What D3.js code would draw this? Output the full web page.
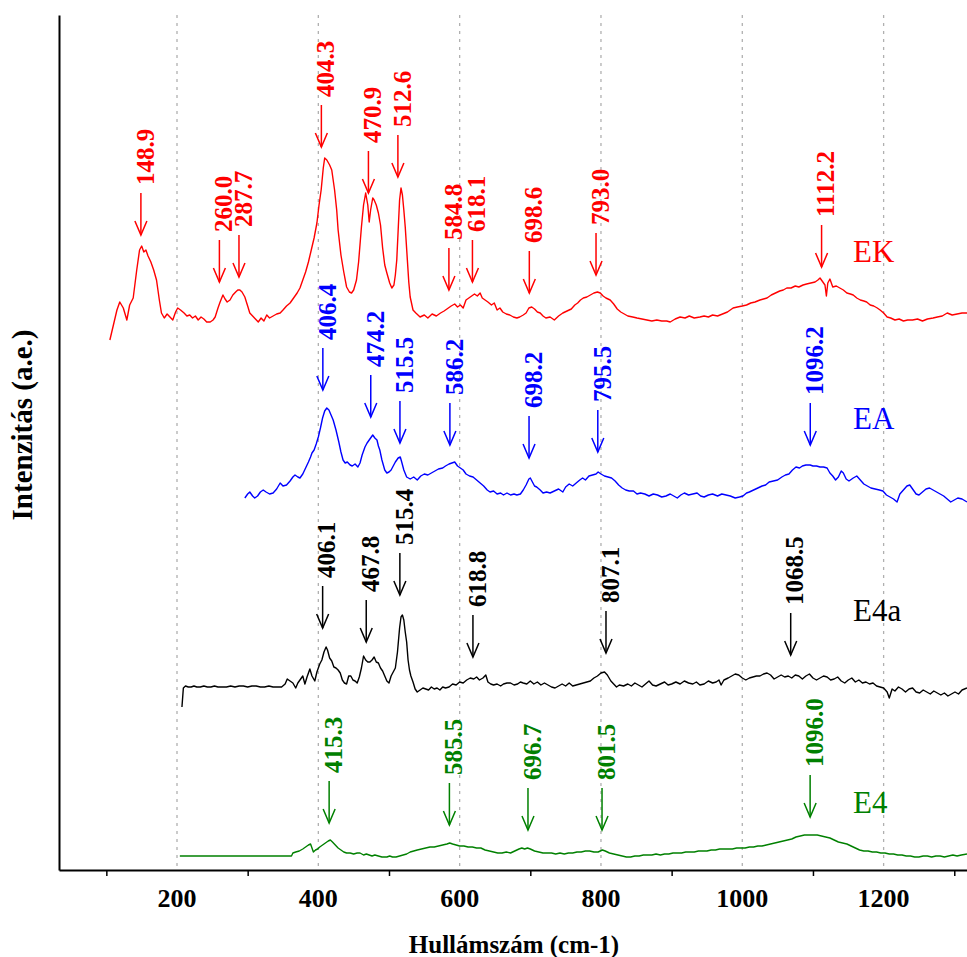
<!DOCTYPE html>
<html><head><meta charset="utf-8">
<script src="https://cdn.jsdelivr.net/npm/d3@7"></script>
<style>body{margin:0;background:#fff;} svg{display:block}</style>
</head><body><svg id="c" width="967" height="957"></svg>
<script>
// ---------------- DATA ----------------
const seriesNames = ["EK", "EA", "E4a", "E4"];
const seriesColors = ["#ff0000", "#0000ff", "#000000", "#008000"];
const seriesOffsets = [550, 370, 180, 10];   // vertical stacking offsets (a.u.)

const ekSpectrum = [[105,-20],[110,-5],[115,10],[119,18],[124,12],[129,0],[133,15],[138,22],[143,50],[147,70],[150,74],[153,68],[156,70],[159,64],[163,58],[167,50],[171,40],[175,20],[178,7],[182,2],[186,6],[190,3],[194,0],[198,8],[201,12],[205,10],[210,7],[214,4],[218,5],[222,2],[226,4],[230,0],[234,3],[238,1],[242,-2],[247,-2],[251,0],[254,3],[258,12],[261,18],[265,25],[268,21],[271,18],[275,20],[279,25],[283,28],[286,30],[289,30],[292,28],[296,23],[300,14],[303,7],[307,4],[311,1],[315,-2],[319,2],[323,-1],[327,5],[331,2],[336,4],[341,6],[346,7],[350,10],[355,14],[360,17],[365,22],[370,27],[374,32],[378,40],[382,48],[386,58],[390,70],[394,82],[398,97],[401,115],[404,130],[407,152],[409,162],[412,160],[416,155],[419,150],[423,130],[426,110],[428,90],[432,65],[436,48],[440,33],[444,28],[447,27],[450,30],[454,40],[457,58],[461,93],[464,115],[467,127],[470,115],[472,98],[474,110],[477,122],[479,120],[482,115],[485,107],[488,95],[491,72],[494,55],[497,47],[501,37],[504,32],[507,35],[509,45],[511,60],[513,90],[515,120],[517,132],[519,125],[521,110],[523,93],[526,60],[528,38],[530,23],[534,10],[538,7],[544,3],[550,5],[555,2],[561,6],[567,4],[573,7],[578,9],[584,12],[588,14],[593,16],[597,13],[601,15],[605,12],[609,20],[613,22],[617,24],[621,26],[625,24],[629,27],[632,22],[636,20],[640,18],[645,15],[649,17],[653,10],[657,12],[661,8],[666,6],[671,5],[676,3],[681,2],[685,3],[690,5],[694,7],[698,12],[702,13],[706,11],[710,8],[714,7],[718,4],[722,2],[728,3],[734,0],[740,4],[746,7],[752,9],[758,11],[763,15],[767,17],[771,20],[775,22],[780,23],[785,25],[790,27],[795,28],[799,27],[803,24],[807,22],[813,20],[818,16],[823,11],[828,8],[833,6],[838,4],[845,3],[851,2],[858,1],[865,0],[872,-1],[879,0],[886,-1],[893,-1],[898,-2],[905,1],[912,3],[919,2],[925,4],[932,2],[940,3],[946,4],[952,3],[958,5],[965,4],[972,6],[979,8],[987,12],[993,13],[1000,14],[1006,15],[1012,17],[1018,18],[1025,20],[1030,21],[1035,22],[1041,25],[1047,27],[1053,29],[1058,30],[1063,32],[1069,32],[1075,34],[1080,33],[1086,35],[1091,36],[1097,37],[1103,38],[1107,40],[1110,42],[1113,39],[1117,35],[1119,24],[1121,37],[1124,41],[1128,33],[1133,34],[1138,32],[1143,30],[1148,27],[1153,26],[1157,25],[1162,22],[1167,20],[1172,19],[1176,18],[1181,15],[1186,14],[1191,12],[1195,10],[1200,7],[1205,3],[1210,2],[1216,0],[1222,1],[1228,-1],[1234,0],[1241,0],[1248,1],[1255,-1],[1262,1],[1270,2],[1276,3],[1283,4],[1290,7],[1297,5],[1304,6],[1311,7],[1318,7]];

const eaSpectrum = [[296,2],[300,6],[303,8],[307,4],[310,2],[314,4],[318,8],[322,10],[326,8],[331,6],[336,7],[341,11],[346,17],[350,14],[355,15],[360,19],[364,23],[367,25],[371,23],[374,22],[378,26],[382,32],[386,38],[389,43],[391,47],[394,50],[397,56],[400,63],[403,72],[406,82],[409,89],[412,92],[415,90],[418,85],[421,80],[425,70],[429,58],[432,48],[435,40],[438,37],[441,38],[445,35],[448,34],[452,36],[456,33],[459,37],[462,45],[466,53],[469,57],[472,60],[475,63],[477,65],[480,62],[483,60],[485,54],[487,50],[490,40],[494,30],[497,27],[500,28],[503,30],[506,34],[509,38],[513,42],[516,43],[518,38],[521,30],[525,23],[530,21],[535,23],[540,20],[545,24],[550,26],[555,25],[560,27],[565,29],[570,31],[576,32],[580,34],[585,36],[589,37],[593,38],[597,34],[601,32],[605,30],[609,26],[614,24],[619,23],[624,20],[629,17],[634,14],[639,10],[643,8],[648,9],[653,6],[658,7],[662,5],[667,7],[672,5],[677,6],[681,5],[686,6],[690,10],[694,15],[698,21],[700,22],[703,18],[706,14],[709,13],[714,10],[718,7],[723,8],[728,7],[734,9],[740,11],[746,8],[750,13],[755,16],[760,14],[765,17],[770,20],[774,22],[778,20],[783,24],[788,25],[793,26],[796,28],[800,26],[805,24],[810,23],[815,22],[820,19],[825,15],[830,12],[835,10],[840,9],[846,9],[851,6],[856,7],[862,6],[868,4],[874,6],[880,5],[886,3],[892,4],[898,6],[903,4],[908,2],[913,5],[918,7],[924,5],[930,6],[936,7],[941,4],[946,3],[952,5],[958,6],[965,4],[971,6],[977,5],[983,4],[990,2],[996,3],[1001,4],[1006,7],[1010,8],[1016,10],[1022,12],[1028,14],[1033,15],[1038,18],[1044,19],[1050,20],[1056,23],[1061,25],[1066,26],[1071,30],[1076,33],[1081,32],[1085,34],[1090,35],[1096,35],[1100,34],[1105,34],[1110,33],[1115,33],[1120,32],[1124,27],[1128,24],[1132,20],[1136,23],[1140,29],[1143,27],[1147,21],[1151,19],[1157,22],[1162,24],[1167,20],[1172,16],[1177,14],[1182,12],[1188,11],[1194,10],[1199,9],[1204,5],[1209,3],[1214,1],[1219,-2],[1223,6],[1228,10],[1233,14],[1237,15],[1242,10],[1246,6],[1250,5],[1255,8],[1260,11],[1265,12],[1270,10],[1275,8],[1280,6],[1285,4],[1290,1],[1295,-2],[1300,0],[1305,2],[1311,1],[1318,-2]];

const e4aSpectrum = [[207,-17],[209,2],[212,4],[216,3],[220,3],[224,4],[228,3],[233,3],[238,4],[243,3],[248,3],[253,4],[258,3],[264,3],[270,3],[276,4],[282,3],[288,4],[294,4],[300,3],[306,4],[312,4],[318,3],[324,3],[330,4],[336,3],[342,3],[348,3],[353,6],[356,11],[360,9],[364,7],[368,2],[371,7],[374,10],[378,14],[381,6],[384,13],[388,21],[391,14],[395,9],[398,18],[402,26],[405,30],[408,38],[411,43],[413,40],[416,32],[419,29],[422,23],[425,22],[428,20],[431,17],[434,10],[437,7],[440,6],[443,14],[446,14],[449,10],[452,9],[455,7],[458,13],[461,22],[464,34],[467,30],[470,28],[473,28],[476,30],[479,33],[482,28],[485,27],[488,22],[491,19],[494,14],[497,9],[500,7],[503,14],[506,18],[509,22],[512,38],[515,62],[517,73],[519,75],[521,70],[523,58],[525,48],[527,30],[529,20],[531,14],[534,8],[537,1],[540,-2],[544,0],[548,2],[552,1],[556,0],[560,3],[564,1],[568,2],[572,0],[576,3],[580,2],[585,3],[590,6],[595,5],[600,8],[605,7],[610,10],[615,12],[620,11],[624,13],[628,10],[633,12],[637,15],[640,8],[644,6],[648,5],[653,6],[658,4],[662,6],[667,7],[672,7],[677,5],[682,6],[686,8],[690,7],[695,6],[700,9],[705,6],[710,8],[715,5],[720,7],[725,5],[730,3],[735,2],[740,4],[745,6],[750,4],[755,7],[760,4],[765,5],[770,6],[775,7],[780,8],[785,9],[790,12],[795,14],[800,17],[805,18],[809,15],[814,9],[818,6],[822,3],[826,5],[832,4],[838,6],[843,4],[848,7],[853,5],[858,3],[863,6],[868,9],[873,5],[878,4],[884,6],[890,8],[895,5],[900,6],[906,8],[912,6],[918,9],[924,7],[930,6],[935,8],[940,5],[946,6],[952,9],[958,7],[963,8],[967,10],[970,5],[974,10],[980,12],[985,14],[990,16],[995,15],[1000,12],[1005,10],[1010,12],[1015,13],[1020,14],[1025,14],[1030,16],[1035,17],[1040,15],[1045,11],[1050,13],[1055,15],[1060,13],[1065,14],[1070,12],[1075,15],[1080,14],[1085,11],[1090,14],[1095,16],[1100,12],[1105,10],[1110,12],[1115,14],[1120,13],[1125,10],[1130,11],[1135,13],[1140,9],[1145,7],[1150,10],[1155,12],[1160,8],[1165,10],[1170,7],[1175,8],[1180,6],[1185,7],[1190,4],[1195,3],[1200,2],[1205,-2],[1208,-8],[1212,1],[1216,-1],[1221,3],[1226,1],[1231,-2],[1236,1],[1241,2],[1246,-2],[1251,-3],[1256,0],[1261,-2],[1266,-4],[1271,-1],[1276,-3],[1281,-5],[1286,-3],[1291,-6],[1296,-4],[1301,-2],[1306,-4],[1311,0],[1318,2]];

const e4Spectrum = [[204,4],[362,4],[364,7],[368,8],[373,9],[378,11],[382,13],[386,15],[389,16],[391,12],[393,8],[396,10],[399,11],[402,13],[406,15],[410,17],[414,19],[417,20],[420,18],[424,15],[428,12],[432,10],[436,8],[440,7],[445,7],[450,6],[455,7],[459,7],[464,5],[468,6],[472,5],[476,4],[480,5],[485,4],[490,3],[494,3],[497,3],[501,4],[505,3],[510,3],[515,4],[520,5],[525,6],[530,8],[535,9],[540,10],[546,11],[552,12],[558,13],[564,13],[570,14],[576,15],[582,16],[586,17],[590,16],[595,15],[600,14],[606,14],[612,13],[618,13],[624,12],[630,12],[636,10],[642,9],[648,8],[654,7],[660,7],[666,8],[672,7],[678,9],[684,11],[688,12],[692,11],[696,12],[700,11],[706,9],[712,8],[718,7],[724,7],[730,7],[736,6],[742,7],[748,6],[754,7],[760,7],[766,8],[772,8],[778,9],[784,9],[790,8],[796,8],[802,10],[806,9],[812,7],[818,6],[824,5],[830,4],[836,3],[842,3],[848,4],[854,4],[860,5],[866,5],[872,5],[878,6],[884,5],[890,6],[896,6],[902,7],[908,7],[914,7],[920,8],[926,8],[932,8],[938,9],[944,9],[950,9],[956,10],[962,10],[968,11],[974,11],[980,11],[986,11],[992,12],[998,12],[1004,12],[1010,13],[1016,13],[1022,14],[1028,14],[1034,15],[1040,16],[1046,17],[1052,18],[1058,19],[1064,20],[1070,21],[1076,23],[1082,24],[1088,25],[1094,25],[1100,25],[1106,25],[1112,24],[1118,23],[1124,22],[1130,20],[1136,18],[1142,17],[1148,16],[1154,14],[1160,12],[1166,10],[1172,9],[1178,9],[1184,8],[1190,8],[1196,7],[1202,7],[1208,6],[1214,6],[1220,5],[1226,5],[1232,4],[1238,4],[1244,3],[1250,3],[1256,4],[1262,4],[1268,3],[1274,4],[1280,4],[1286,3],[1292,4],[1298,5],[1304,4],[1310,5],[1318,6]];

// peak annotations: wavenumber and intensity level (a.u., relative to series) the arrow points to
const ekPeaks = [148.9, 260.0, 287.7, 404.3, 470.9, 512.6, 584.8, 618.1, 698.6, 793.0, 1112.2];
const ekPeakLevels = [85, 38, 43, 173, 127, 143, 30, 38, 27, 45, 53];
const eaPeaks = [406.4, 474.2, 515.5, 586.2, 698.2, 795.5, 1096.2];
const eaPeakLevels = [110, 83, 57, 55, 42, 48, 55];
const e4aPeaks = [406.1, 467.8, 515.4, 618.8, 807.1, 1068.5];
const e4aPeakLevels = [62, 48, 95, 33, 37, 35];
const e4Peaks = [415.3, 585.5, 696.7, 801.5, 1096.0];
const e4PeakLevels = [37, 35, 30, 30, 43];

const gridTicks = [200, 400, 600, 800, 1000, 1200];
const minorTicks = [100, 300, 500, 700, 900, 1100, 1300];
const xTitle = "Hullámszám (cm-1)";
const yTitle = "Intenzitás (a.e.)";

// ---------------- DRAW ----------------
const spectra = [ekSpectrum, eaSpectrum, e4aSpectrum, e4Spectrum];
const peaks = [ekPeaks, eaPeaks, e4aPeaks, e4Peaks];
const peakLevels = [ekPeakLevels, eaPeakLevels, e4aPeakLevels, e4PeakLevels];
const labelLevels = [58, 71, 69, 47];

const font = '"Liberation Serif","Times New Roman",serif';
const svg = d3.select('#c');
const x = d3.scaleLinear().domain([33, 1318]).range([59, 967]);
const y = d3.scaleLinear().domain([0, 855]).range([870, 15]);

// grid
svg.append('g').selectAll('line').data(gridTicks).join('line')
  .attr('x1', d => x(d)).attr('x2', d => x(d))
  .attr('y1', y(855)).attr('y2', y(0))
  .attr('stroke', '#b0b0b0').attr('stroke-width', 1.3)
  .attr('stroke-dasharray', '3,5');

// x axis
const gx = svg.append('g').attr('transform', `translate(0,${y(0)})`)
  .call(d3.axisBottom(x).tickValues(minorTicks).tickSize(6).tickSizeOuter(0).tickFormat(''));
gx.select('.domain').attr('stroke', '#000').attr('stroke-width', 2);
gx.selectAll('.tick line').attr('stroke', '#000').attr('stroke-width', 1.5);

svg.append('g').selectAll('text').data(gridTicks).join('text')
  .attr('x', d => x(d)).attr('y', 907)
  .attr('text-anchor', 'middle')
  .attr('font-family', font).attr('font-weight', 'bold').attr('font-size', 26)
  .text(d => d);

// y axis
const gy = svg.append('g').attr('transform', `translate(${x(33)},0)`)
  .call(d3.axisLeft(y).tickValues([]).tickSizeOuter(0));
gy.select('.domain').attr('stroke', '#000').attr('stroke-width', 2);

// titles
svg.append('text').attr('x', 514).attr('y', 953).attr('text-anchor', 'middle')
  .attr('font-family', font).attr('font-weight', 'bold').attr('font-size', 25)
  .text(xTitle);
svg.append('text').attr('transform', 'translate(32,425) rotate(-90)').attr('text-anchor', 'middle')
  .attr('font-family', font).attr('font-weight', 'bold').attr('font-size', 29)
  .text(yTitle);

// spectra
spectra.forEach((data, i) => {
  const off = seriesOffsets[i];
  const line = d3.line().x(d => x(d[0])).y(d => y(d[1] + off));
  svg.append('path').datum(data)
    .attr('d', line).attr('fill', 'none')
    .attr('stroke', seriesColors[i]).attr('stroke-width', 1.4)
    .attr('stroke-linejoin', 'round');

  // series label
  svg.append('text')
    .attr('x', 853).attr('y', y(labelLevels[i] + off))
    .attr('font-family', font).attr('font-size', 31)
    .attr('fill', seriesColors[i]).text(seriesNames[i]);

  // peak arrows
  const g = svg.append('g');
  peaks[i].forEach((p, k) => {
    const ax = x(p);
    const tip = y(peakLevels[i][k] + off);
    const top = tip - 42;
    g.append('line').attr('x1', ax).attr('x2', ax).attr('y1', top).attr('y2', tip)
      .attr('stroke', seriesColors[i]).attr('stroke-width', 1.5);
    g.append('path')
      .attr('d', `M${ax - 6},${tip - 14}L${ax},${tip}L${ax + 6},${tip - 14}`)
      .attr('fill', 'none').attr('stroke', seriesColors[i]).attr('stroke-width', 1.5);
    g.append('text')
      .attr('transform', `translate(${ax + 4},${top - 8}) rotate(-90)`)
      .attr('dy', '0.35em')
      .attr('font-family', font).attr('font-weight', 'bold').attr('font-size', 25)
      .attr('fill', seriesColors[i])
      .text(p.toFixed(1));
  });
});
</script></body></html>
